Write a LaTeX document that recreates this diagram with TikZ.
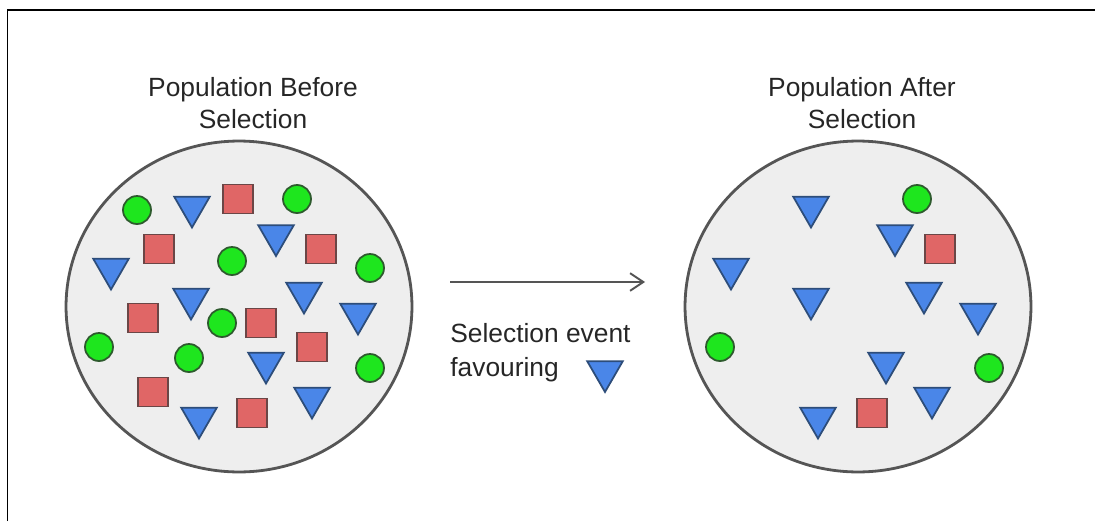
\documentclass[tikz,border=0pt]{standalone}
\usepackage{fontspec}
\setmainfont{Liberation Sans}
\usepackage{tikz}
\usetikzlibrary{shapes.geometric,arrows.meta}
\definecolor{popfill}{HTML}{EEEEEE}
\definecolor{popline}{HTML}{555555}
\definecolor{redfill}{HTML}{E06666}
\definecolor{redline}{HTML}{6B4646}
\definecolor{greenfill}{HTML}{1EE61E}
\definecolor{greenline}{HTML}{2D5A2D}
\definecolor{bluefill}{HTML}{4A86E8}
\definecolor{blueline}{HTML}{2D4D7A}
\definecolor{textgray}{HTML}{262626}

\begin{document}
\begin{tikzpicture}[x=0.02cm, y=-0.02cm, >={Straight Barb[length=7.5pt,width=10pt]},
  popnode/.style={ellipse,draw=popline,fill=popfill,line width=1.6pt,minimum width=6.92cm,minimum height=6.62cm,inner sep=0pt},
  roundnode/.style={circle,draw=greenline,fill=greenfill,line width=1pt,minimum size=0.56cm,inner sep=0pt},
  squarednode/.style={rectangle,draw=redline,fill=redfill,line width=1pt,minimum width=0.6cm,minimum height=0.58cm,inner sep=0pt},
  trinode/.style={regular polygon,regular polygon sides=3,shape border rotate=180,draw=blueline,fill=bluefill,line width=1pt,minimum size=0.82cm,inner sep=0pt},
  textnode/.style={text=textgray,font=\fontsize{15}{18}\selectfont,inner sep=0pt}]
	\useasboundingbox (0,0) rectangle (1095,521);
	\draw[line width=1.1pt] (7.5,521) -- (7.5,10) -- (1095,10);
	
	% before selection
	\node[textnode, align=center] (titlebefore) at (253,103) {Population Before\\Selection};
	\node[popnode] (before) at (239,306.5) {};
	\node[roundnode] (b1) at (137,210) {};
	\node[roundnode] (b2) at (297,199) {};
	\node[roundnode] (b3) at (232,261) {};
	\node[roundnode] (b4) at (370,268) {};
	\node[roundnode] (b5) at (222,323) {};
	\node[roundnode] (b6) at (99,347) {};
	\node[roundnode] (b7) at (189,358) {};
	\node[roundnode] (b8) at (370,368) {};
	\node[squarednode] (s1) at (238,199) {};
	\node[squarednode] (s2) at (159,249) {};
	\node[squarednode] (s3) at (321,249) {};
	\node[squarednode] (s4) at (143,318) {};
	\node[squarednode] (s5) at (261,323) {};
	\node[squarednode] (s6) at (312,347) {};
	\node[squarednode] (s7) at (153,392) {};
	\node[squarednode] (s8) at (252,413) {};
	\node[trinode] (t1) at (192,207) {};
	\node[trinode] (t2) at (276,235.5) {};
	\node[trinode] (t3) at (111,269) {};
	\node[trinode] (t4) at (191,299) {};
	\node[trinode] (t5) at (304,293) {};
	\node[trinode] (t6) at (358,314) {};
	\node[trinode] (t7) at (266,363) {};
	\node[trinode] (t8) at (312,398) {};
	\node[trinode] (t9) at (199,418) {};
	
	% selection event
	\coordinate (arrowstart) at (450,282);
	\coordinate (arrowend) at (645,282);
	\draw[->, popline, line width=1.1pt] (arrowstart) -- (arrowend);
	\node[textnode, font=\fontsize{15}{19.5}\selectfont, align=left, anchor=west] (event) at (450,352.5) {Selection event\\favouring};
	\node[trinode] (favoured) at (605,371.5) {};
	
	% after selection
	\node[textnode, align=center] (titleafter) at (862,103) {Population After\\Selection};
	\node[popnode] (after) at (858,306.5) {};
	\node[roundnode] (a1) at (917,199) {};
	\node[roundnode] (a2) at (720,347) {};
	\node[roundnode] (a3) at (989,368) {};
	\node[squarednode] (r1) at (940,249) {};
	\node[squarednode] (r2) at (872,413) {};
	\node[trinode] (u1) at (811,207) {};
	\node[trinode] (u2) at (895,235.5) {};
	\node[trinode] (u3) at (731,269) {};
	\node[trinode] (u4) at (811,299) {};
	\node[trinode] (u5) at (924,293) {};
	\node[trinode] (u6) at (978,314) {};
	\node[trinode] (u7) at (886,363) {};
	\node[trinode] (u8) at (932,398) {};
	\node[trinode] (u9) at (818,418) {};
	
\end{tikzpicture}
\end{document}
